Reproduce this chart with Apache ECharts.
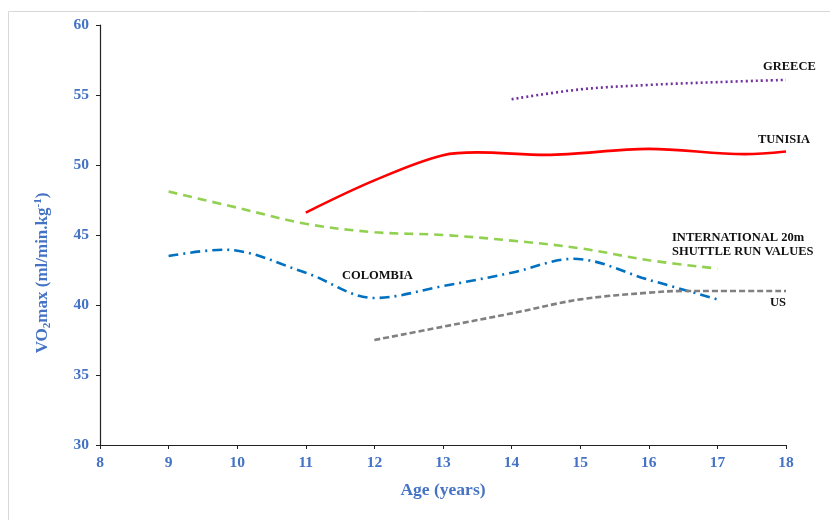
<!DOCTYPE html>
<html><head><meta charset="utf-8">
<script src="https://cdn.jsdelivr.net/npm/echarts@6/dist/echarts.min.js"></script>
<style>html,body{margin:0;padding:0;background:#fff}#c{width:830px;height:520px}</style>
</head><body><div id="c"></div>
<script>
const ages = [8, 9, 10, 11, 12, 13, 14, 15, 16, 17, 18];
const yTicks = [30, 35, 40, 45, 50, 55, 60];
const greeceAges = [14, 15, 16, 17, 18];
const greece = [54.7, 55.4, 55.72, 55.92, 56.08];
const tunisiaAges = [11, 12, 13, 13.5, 14.5, 16, 17.4, 18];
const tunisia = [46.6, 48.9, 50.7, 50.9, 50.72, 51.15, 50.78, 50.97];
const intlAges = [9, 10, 11, 12, 13, 14, 15, 16, 17];
const intl = [48.1, 46.95, 45.8, 45.2, 45.0, 44.6, 44.05, 43.2, 42.6];
const colombiaAges = [9, 9.8, 11, 12, 13, 14, 14.9, 16, 17];
const colombia = [43.5, 43.95, 42.3, 40.5, 41.35, 42.3, 43.3, 41.8, 40.4];
const usAges = [12, 13, 14, 15, 16, 16.5, 17, 18];
const us = [37.5, 38.45, 39.4, 40.4, 40.88, 41.0, 41.0, 41.0];

const pair = (xs, ys) => xs.map((x, i) => [x, ys[i]]);
const font = '"Liberation Serif", "Times New Roman", serif';
const blue = '#4472C4';

const chart = echarts.init(document.getElementById('c'));
function mk(name, xs, ys, color, type) {
  return { name, type: 'line', data: pair(xs, ys), smooth: 0.35, showSymbol: false,
    lineStyle: { color, width: 2.6, type }, animation: false };
}
const lblStyle = { fontFamily: font, fontWeight: 'bold', fontSize: 12.5, fill: '#111' };
function lbl(text, x, y) {
  return { type: 'text', x, y, style: Object.assign({ text, align: 'left', verticalAlign: 'middle' }, lblStyle) };
}
chart.setOption({
  animation: false,
  grid: { left: 100, right: 44, top: 25, bottom: 75 },
  xAxis: { type: 'value', min: ages[0], max: ages[ages.length - 1], interval: 1,
    name: 'Age (years)', nameLocation: 'middle', nameGap: 36,
    nameTextStyle: { color: blue, fontFamily: font, fontWeight: 'bold', fontSize: 17.5 },
    axisLine: { onZero: false, lineStyle: { color: '#222', width: 1.2 } },
    axisTick: { length: 4, lineStyle: { color: '#222' } },
    axisLabel: { color: blue, fontFamily: font, fontWeight: 'bold', fontSize: 15.5, margin: 10 },
    splitLine: { show: false } },
  yAxis: { type: 'value', min: yTicks[0], max: yTicks[yTicks.length - 1], interval: 5,
    axisLine: { show: true, lineStyle: { color: '#222', width: 1.2 } },
    axisTick: { show: true, length: 4, lineStyle: { color: '#222' } },
    axisLabel: { color: blue, fontFamily: font, fontWeight: 'bold', fontSize: 15.5, margin: 11 },
    splitLine: { show: false } },
  series: [
    mk('GREECE', greeceAges, greece, '#7030A0', [2, 3]),
    mk('TUNISIA', tunisiaAges, tunisia, '#FF0000', 'solid'),
    mk('INTL', intlAges, intl, '#92D050', [9, 6]),
    mk('COLOMBIA', colombiaAges, colombia, '#0070C0', [10, 5, 2, 5]),
    mk('US', usAges, us, '#808080', [6, 3])
  ],
  graphic: [
    { type: 'rect', shape: { x: 8.5, y: 11.5, width: 840, height: 530 }, style: { fill: 'none', stroke: '#d8d8d8', lineWidth: 1 }, silent: true },
    { type: 'text', x: 43, y: 273, rotation: Math.PI / 2, style: { rich: {
        a: { fontFamily: font, fontWeight: 'bold', fontSize: 17, fill: blue },
        s: { fontFamily: font, fontWeight: 'bold', fontSize: 11, fill: blue, padding: [9, 0, 0, 0] },
        u: { fontFamily: font, fontWeight: 'bold', fontSize: 11, fill: blue, padding: [0, 0, 9, 0] } },
      text: '{a|VO}{s|2}{a|max (ml/min.kg}{u|-1}{a|)}', align: 'center', verticalAlign: 'middle' } },
    lbl('GREECE', 763, 67),
    lbl('TUNISIA', 758, 140),
    lbl('INTERNATIONAL 20m', 672, 238),
    lbl('SHUTTLE RUN VALUES', 672, 252),
    lbl('COLOMBIA', 342, 276),
    lbl('US', 770, 303)
  ]
});
</script></body></html>
